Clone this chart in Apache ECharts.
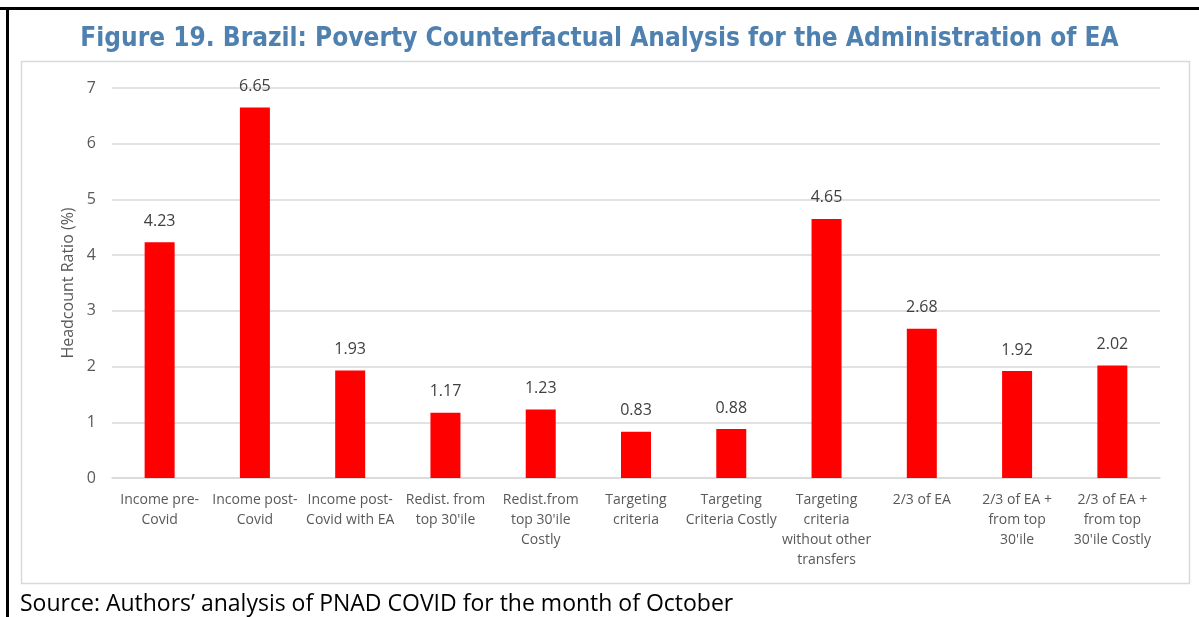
<!DOCTYPE html>
<html>
<head>
<meta charset="utf-8">
<title>Figure 19. Brazil: Poverty Counterfactual Analysis</title>
<script src="https://cdn.jsdelivr.net/npm/echarts@6/dist/echarts.min.js"></script>
<style>
  html, body { margin: 0; padding: 0; background: #fff; }
  #chart { width: 1199px; height: 617px; }
</style>
</head>
<body>
<div id="chart"></div>
<script>
// 横轴类别
const categories = [
  'Income pre-\nCovid',
  'Income post-\nCovid',
  'Income post-\nCovid with EA',
  'Redist. from\ntop 30\'ile',
  'Redist.from\ntop 30\'ile\nCostly',
  'Targeting\ncriteria',
  'Targeting\nCriteria Costly',
  'Targeting\ncriteria\nwithout other\ntransfers',
  '2/3 of EA',
  '2/3 of EA +\nfrom top\n30\'ile',
  '2/3 of EA +\nfrom top\n30\'ile Costly'
];
// 贫困人口比例 (%)
const headcount = [4.23, 6.65, 1.93, 1.17, 1.23, 0.83, 0.88, 4.65, 2.68, 1.92, 2.02];
// y轴刻度
const yTicks = [0, 1, 2, 3, 4, 5, 6, 7];

const font = '"Open Sans", "Noto Sans", sans-serif';
const chart = echarts.init(document.getElementById('chart'));

const option = {
  animation: false,
  backgroundColor: '#fff',
  title: {
    text: 'Figure 19. Brazil: Poverty Counterfactual Analysis for the Administration of EA',
    left: 'center',
    top: 21,
    textStyle: {
      fontFamily: '"Liberation Sans Narrow", "DejaVu Sans Condensed", "Open Sans", sans-serif',
      fontSize: 26,
      fontWeight: 'bold',
      color: '#4E81B0',
    },
  },
  // 外框和来源说明
  graphic: [
    { type: 'rect', shape: { x: 0, y: 7, width: 1199, height: 3 }, style: { fill: '#000' }, silent: true },
    { type: 'rect', shape: { x: 6, y: 7, width: 3, height: 610 }, style: { fill: '#000' }, silent: true },
    {
      type: 'rect',
      shape: { x: 21.5, y: 61.5, width: 1168, height: 522 },
      style: { fill: 'none', stroke: '#D9D9D9', lineWidth: 1.5 },
      silent: true,
      z: -1,
    },
    {
      type: 'text',
      left: 20,
      top: 593,
      style: {
        text: 'Source: Authors\u2019 analysis of PNAD COVID for the month of October',
        font: '23px "Open Sans", sans-serif',
        fill: '#000',
      },
    },
  ],
  grid: {
    left: 112,
    right: 39,
    top: 88,
    bottom: 139,
  },
  xAxis: {
    type: 'category',
    data: categories,
    axisTick: { show: false },
    axisLine: { lineStyle: { color: '#D9D9D9', width: 1.5 } },
    axisLabel: {
      interval: 0,
      margin: 12,
      color: '#595959',
      fontFamily: font,
      fontSize: 14,
      lineHeight: 20,
    },
  },
  yAxis: {
    type: 'value',
    min: yTicks[0],
    max: yTicks[yTicks.length - 1],
    interval: 1,
    name: 'Headcount Ratio (%)',
    nameLocation: 'middle',
    nameGap: 36,
    nameTextStyle: { color: '#595959', fontFamily: font, fontSize: 16 },
    axisLine: { show: false },
    axisTick: { show: false },
    axisLabel: { color: '#595959', fontFamily: font, fontSize: 16, margin: 16 },
    splitLine: { lineStyle: { color: '#D9D9D9', width: 1.5 } },
  },
  series: [
    {
      type: 'bar',
      data: headcount,
      barWidth: 30,
      itemStyle: { color: '#FF0000' },
      label: {
        show: true,
        position: 'top',
        distance: 13,
        color: '#404040',
        fontFamily: font,
        fontSize: 16,
        formatter: p => p.value.toFixed(2),
      },
    },
  ],
};

chart.setOption(option);
</script>
</body>
</html>
